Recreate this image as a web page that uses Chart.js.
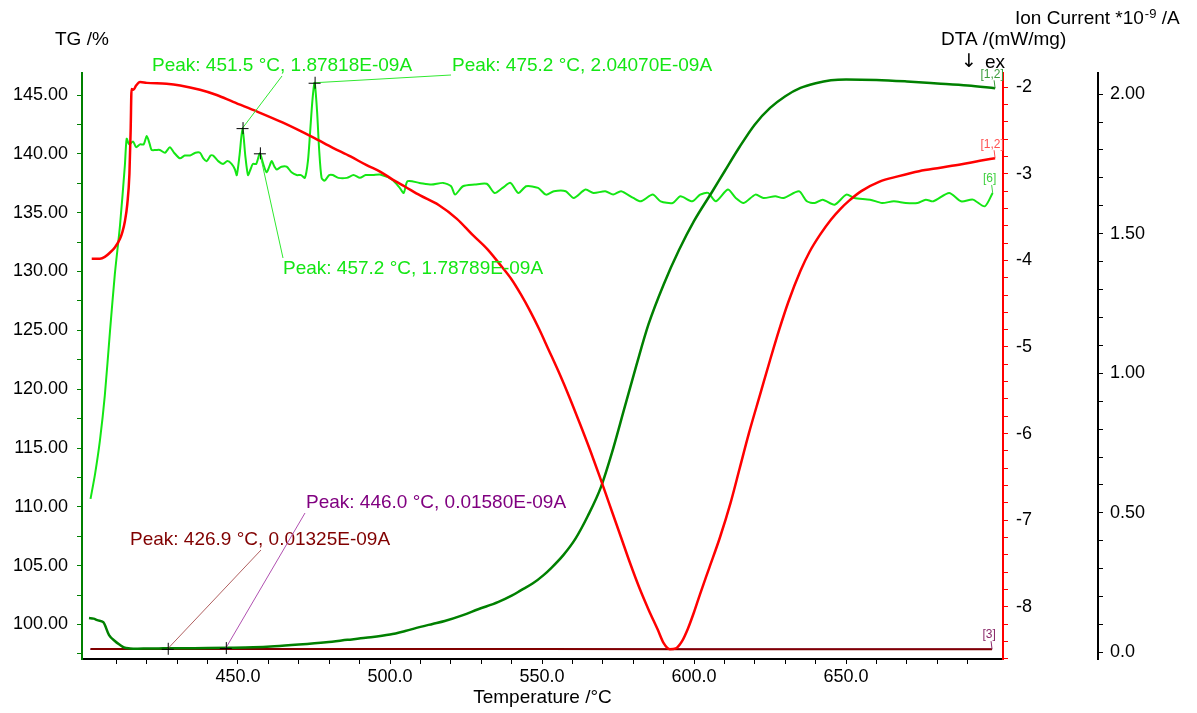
<!DOCTYPE html>
<html>
<head>
<meta charset="utf-8">
<title>TG / DTA / MS</title>
<script src="https://cdn.jsdelivr.net/npm/chart.js@4.4.1/dist/chart.umd.min.js"></script>
<style>
  html, body { margin: 0; padding: 0; background: #ffffff; }
  #wrap { width: 1197px; height: 713px; }
</style>
</head>
<body>
<div id="wrap"><canvas id="c" width="1197" height="713"></canvas></div>
<script>
// ---- TG (mass, %) ----
const tgTemp = [401, 402.5, 404, 405.7, 407.6, 409.5, 411, 412.5, 414.5, 417, 420, 424, 427, 432, 440, 447, 455, 462, 470, 479, 486, 492, 500, 505, 510, 514, 518, 524, 529, 535.5, 540, 543, 547, 550.5, 553, 557, 561, 565, 569.4, 573, 577, 581, 585, 590, 595, 600, 606, 610, 615, 620, 625, 630, 635, 640, 645, 650, 660, 670, 680, 690, 699];
const tgMass = [100.55, 100.5, 100.35, 100.2, 99.1, 98.6, 98.3, 98.05, 97.97, 97.95, 97.96, 97.97, 97.98, 97.99, 98.0, 98.02, 98.06, 98.15, 98.3, 98.5, 98.7, 98.87, 99.15, 99.45, 99.8, 100.05, 100.3, 100.8, 101.3, 101.9, 102.45, 102.9, 103.5, 104.2, 104.8, 105.9, 107.3, 109.2, 111.7, 114.6, 118.3, 122.0, 125.5, 128.9, 131.8, 134.3, 136.8, 138.5, 140.6, 142.5, 143.9, 144.9, 145.6, 146.0, 146.25, 146.32, 146.28, 146.15, 145.98, 145.8, 145.57];

// ---- DTA (mW/mg) ----
const dtaTemp = [401.9, 404.6, 406.2, 407.9, 409.5, 411.2, 412.0, 412.8, 413.6, 414.3, 414.7, 415.0, 415.6, 416.5, 417.8, 420, 426.5, 431, 437.5, 443, 448.4, 456.2, 464.8, 474.7, 481.2, 487, 492.3, 497, 501, 505, 509.9, 516, 522, 527, 532, 536, 540, 543, 546, 549, 552, 556, 559, 562.5, 566, 569, 572, 576, 579, 582, 585, 588, 590, 592, 594, 596, 598, 600, 602, 605, 608.5, 612, 615, 618, 621.7, 625, 628, 631, 635, 638, 641.5, 645, 648, 651, 655, 661, 667, 674, 681, 688, 694, 699];
const dtaSignal = [-3.98, -3.98, -3.96, -3.91, -3.85, -3.75, -3.67, -3.55, -3.35, -3.0, -2.5, -2.02, -2.03, -1.98, -1.94, -1.95, -1.96, -1.98, -2.03, -2.09, -2.17, -2.28, -2.41, -2.58, -2.70, -2.80, -2.90, -2.98, -3.07, -3.15, -3.25, -3.36, -3.52, -3.70, -3.87, -4.04, -4.22, -4.39, -4.58, -4.79, -5.02, -5.33, -5.58, -5.89, -6.21, -6.50, -6.80, -7.20, -7.50, -7.78, -8.03, -8.26, -8.42, -8.49, -8.48, -8.40, -8.25, -8.06, -7.85, -7.55, -7.20, -6.80, -6.40, -6.00, -5.55, -5.15, -4.80, -4.48, -4.12, -3.90, -3.70, -3.53, -3.41, -3.31, -3.20, -3.09, -3.03, -2.97, -2.93, -2.89, -2.85, -2.82];

// ---- Ion current m/z 6 (10^-9 A), peaks listed separately ----
const ms6Temp = [401.5, 403.0, 404.6, 406.2, 407.9, 409.5, 411.2, 412.8, 413.4, 414.2, 415.5, 416.5, 417.8, 419, 420, 421, 421.6, 423, 424.3, 426, 427.6, 429, 430.9, 432.5, 434.2, 436, 437.5, 438.6, 439.7, 441, 441.8, 443.5, 445.1, 446.5, 447.9, 449, 449.6, 450.5, 452.4, 453.3, 454.1, 454.9, 456, 458.3, 459.4, 460.3, 461.1, 462, 462.7, 464.3, 466, 467.6, 469.3, 470.7, 472, 473, 473.7, 474.5, 476, 476.7, 477.5, 478.5, 480, 481.2, 483, 485.8, 488, 490.1, 492, 494.4, 496.7, 500.6, 503.2, 504.5, 505.8, 509.7, 513.6, 517.5, 520.1, 521.4, 524.0, 527.9, 531.8, 534.4, 537.0, 539.6, 542.2, 544.8, 548.7, 551.3, 553.9, 557.8, 560.4, 564.3, 566.9, 570.8, 573.4, 576.0, 580.0, 582.5, 586.4, 589.0, 593.0, 595.5, 599.4, 602.0, 604.6, 607.2, 611.1, 613.7, 616.3, 620.2, 622.8, 626.7, 629.4, 634.5, 637.1, 639.7, 642.3, 646.2, 650.1, 652.7, 657.9, 661.8, 665.7, 669.6, 673.5, 676.2, 678.7, 683.9, 687.8, 691.7, 695.6, 698.2];
const ms6Current = [0.55, 0.64, 0.76, 0.92, 1.15, 1.355, 1.53, 1.745, 1.84, 1.82, 1.83, 1.81, 1.82, 1.82, 1.85, 1.82, 1.80, 1.80, 1.80, 1.79, 1.81, 1.79, 1.77, 1.78, 1.78, 1.79, 1.79, 1.77, 1.76, 1.78, 1.78, 1.76, 1.75, 1.76, 1.75, 1.73, 1.71, 1.78, 1.78, 1.71, 1.73, 1.75, 1.75, 1.75, 1.72, 1.74, 1.76, 1.74, 1.73, 1.74, 1.74, 1.72, 1.71, 1.71, 1.70, 1.76, 1.86, 1.98, 1.94, 1.80, 1.70, 1.69, 1.71, 1.71, 1.70, 1.70, 1.71, 1.70, 1.71, 1.71, 1.712, 1.694, 1.664, 1.646, 1.688, 1.682, 1.676, 1.682, 1.670, 1.640, 1.670, 1.676, 1.679, 1.646, 1.664, 1.682, 1.646, 1.670, 1.664, 1.640, 1.652, 1.652, 1.628, 1.658, 1.646, 1.652, 1.640, 1.652, 1.628, 1.616, 1.640, 1.616, 1.610, 1.634, 1.616, 1.640, 1.646, 1.616, 1.658, 1.628, 1.610, 1.640, 1.628, 1.634, 1.628, 1.652, 1.616, 1.610, 1.622, 1.604, 1.640, 1.628, 1.622, 1.610, 1.616, 1.610, 1.610, 1.622, 1.616, 1.646, 1.616, 1.622, 1.598, 1.646];
const ms6PeakTemp = [451.5, 457.2, 475.2];
const ms6PeakCurrent = [1.87818, 1.78789, 2.04070];

// ---- Ion current m/z 3 traces (10^-9 A) ----
const ms3aTemp = [401.5, 410, 418, 423, 430, 436, 450, 500, 550, 600, 650, 698];
const ms3aCurrent = [0.0121, 0.0121, 0.0123, 0.0127, 0.0126, 0.0122, 0.0121, 0.0121, 0.0121, 0.0120, 0.0120, 0.0120];
const ms3aPeakTemp = [426.9];
const ms3aPeakCurrent = [0.01325];

const ms3bTemp = [401.5, 420, 438, 442, 450, 455, 500, 550, 600, 650, 698];
const ms3bCurrent = [0.0112, 0.0113, 0.0118, 0.0140, 0.0138, 0.0116, 0.0113, 0.0113, 0.0112, 0.0112, 0.0112];
const ms3bPeakTemp = [446.0];
const ms3bPeakCurrent = [0.01580];

// ---- axis ticks ----
const tempLabelValues = [450, 500, 550, 600, 650];
const tempLabelText = ['450.0', '500.0', '550.0', '600.0', '650.0'];
const tgLabelValues = [100, 105, 110, 115, 120, 125, 130, 135, 140, 145];
const tgLabelText = ['100.00', '105.00', '110.00', '115.00', '120.00', '125.00', '130.00', '135.00', '140.00', '145.00'];
const dtaLabelValues = [-8, -7, -6, -5, -4, -3, -2];
const dtaLabelText = ['-8', '-7', '-6', '-5', '-4', '-3', '-2'];
const ionLabelValues = [0, 0.5, 1.0, 1.5, 2.0];
const ionLabelText = ['0.0', '0.50', '1.00', '1.50', '2.00'];

const FONT = '"Liberation Sans", Arial, Helvetica, sans-serif';
const TG_GREEN = '#008000';
const MS_GREEN = '#14e614';
const DTA_RED = '#ff0000';
const MAROON = '#800000';
const PURPLE = '#800080';

function steps(a, b, s) {
  const out = [];
  const n = Math.round((b - a) / s);
  for (let i = 0; i <= n; i++) out.push(+(a + i * s).toFixed(4));
  return out;
}
function labeler(values, texts) {
  return v => {
    const i = values.findIndex(t => Math.abs(t - v) < 1e-6);
    return i < 0 ? '' : texts[i];
  };
}
function points(xs, ys) { return xs.map((t, i) => ({ x: t, y: ys[i] })); }
function withPeaks(xs, ys, px, py) {
  return points(xs, ys).concat(points(px, py)).sort((a, b) => a.x - b.x);
}

const tempTicks = steps(410, 690, 10);
const tgTicks = steps(97.5, 145, 2.5);
const dtaTicks = steps(-8.6, -2.0, 0.2);
const ionTicks = steps(0, 2.0, 0.1);

function axisGrid(color) {
  return { display: true, drawOnChartArea: false, drawTicks: true, tickLength: 5, tickColor: color, tickWidth: 1 };
}
function tickFont() { return { family: FONT, size: 18 }; }

// Peak call-outs: where the text sits and where its leader line ends.
const peakCallouts = [
  { t: ms6PeakTemp[0], v: ms6PeakCurrent[0], color: MS_GREEN, lead: '#30e830', tx: 152, ty: 66, ex: 282, ey: 76 },
  { t: ms6PeakTemp[1], v: ms6PeakCurrent[1], color: MS_GREEN, lead: '#30e830', tx: 283, ty: 269, ex: 283, ey: 258 },
  { t: ms6PeakTemp[2], v: ms6PeakCurrent[2], color: MS_GREEN, lead: '#30e830', tx: 452, ty: 66, ex: 451, ey: 75 },
  { t: ms3aPeakTemp[0], v: ms3aPeakCurrent[0], color: MAROON, lead: '#b06060', tx: 130, ty: 540, ex: 261, ey: 550 },
  { t: ms3bPeakTemp[0], v: ms3bPeakCurrent[0], color: PURPLE, lead: '#b050b0', tx: 306, ty: 503, ex: 305, ey: 513 }
];

const decorations = {
  id: 'decorations',
  afterDatasetsDraw(chart) {
    const { ctx, scales } = chart;
    const xs = scales.x, ion = scales.ion;
    ctx.save();

    // peak markers, leaders and texts
    peakCallouts.forEach(p => {
      const cx = xs.getPixelForValue(p.t);
      const cy = ion.getPixelForValue(p.v);
      ctx.strokeStyle = p.lead;
      ctx.lineWidth = 1;
      ctx.beginPath();
      ctx.moveTo(cx, cy);
      ctx.lineTo(p.ex, p.ey);
      ctx.stroke();
      ctx.strokeStyle = '#000';
      ctx.beginPath();
      ctx.moveTo(cx - 6, cy + 0.5); ctx.lineTo(cx + 6, cy + 0.5);
      ctx.moveTo(cx + 0.5, cy - 6); ctx.lineTo(cx + 0.5, cy + 6);
      ctx.stroke();
      ctx.fillStyle = p.color;
      ctx.font = '19px ' + FONT;
      ctx.textAlign = 'left';
      ctx.textBaseline = 'middle';
      ctx.fillText('Peak: ' + p.t.toFixed(1) + ' \u00B0C, ' + p.v.toFixed(5) + 'E-09A', p.tx, p.ty);
    });

    // curve end tags
    const tags = [
      { ds: 1, text: '[1,2]', color: '#3a9a3a' },
      { ds: 0, text: '[1,2]', color: '#ff5050' },
      { ds: 2, text: '[6]', color: '#40d040' },
      { ds: 3, text: '[3]', color: '#8a2a6a' }
    ];
    ctx.font = '12px ' + FONT;
    ctx.textAlign = 'center';
    ctx.textBaseline = 'bottom';
    tags.forEach(tag => {
      const meta = chart.getDatasetMeta(tag.ds);
      const last = meta.data[meta.data.length - 1];
      const lx = last.x, ly = last.y;
      ctx.strokeStyle = tag.color;
      ctx.lineWidth = 1;
      ctx.beginPath();
      ctx.moveTo(lx, ly);
      ctx.lineTo(lx - 1, ly - 8);
      ctx.stroke();
      ctx.fillStyle = tag.color;
      ctx.fillText(tag.text, lx - 3, ly - 8);
    });

    // axis captions
    ctx.fillStyle = '#000';
    ctx.textBaseline = 'middle';
    ctx.textAlign = 'left';
    ctx.font = '19px ' + FONT;
    ctx.fillText('TG /%', 55, 40);
    ctx.fillText('DTA /(mW/mg)', 941, 40);
    let x0 = 1015;
    const head = 'Ion Current *10';
    ctx.fillText(head, x0, 19);
    x0 += ctx.measureText(head).width + 1;
    ctx.font = '13px ' + FONT;
    ctx.fillText('-9', x0, 14);
    x0 += ctx.measureText('-9').width;
    ctx.font = '19px ' + FONT;
    ctx.fillText(' /A', x0, 19);
    ctx.fillText('ex', 985, 63);
    ctx.font = '19px "DejaVu Sans", sans-serif';
    ctx.fillText('\u2193', 961, 62);
    ctx.restore();
  }
};

const lineStyle = (color, width) => ({
  borderColor: color, backgroundColor: color, borderWidth: width,
  pointRadius: 0, fill: false
});

new Chart(document.getElementById('c'), {
  type: 'line',
  data: {
    datasets: [
      Object.assign({ label: 'DTA', data: points(dtaTemp, dtaSignal), yAxisID: 'dta', cubicInterpolationMode: 'monotone' }, lineStyle(DTA_RED, 2.5)),
      Object.assign({ label: 'TG', data: points(tgTemp, tgMass), yAxisID: 'tg', cubicInterpolationMode: 'monotone' }, lineStyle(TG_GREEN, 2.5)),
      Object.assign({ label: 'm/z 6', data: withPeaks(ms6Temp, ms6Current, ms6PeakTemp, ms6PeakCurrent), yAxisID: 'ion', tension: 0.25 }, lineStyle(MS_GREEN, 2)),
      Object.assign({ label: 'm/z 3', data: withPeaks(ms3aTemp, ms3aCurrent, ms3aPeakTemp, ms3aPeakCurrent), yAxisID: 'ion', tension: 0 }, lineStyle(MAROON, 2)),
      Object.assign({ label: 'm/z 3b', data: withPeaks(ms3bTemp, ms3bCurrent, ms3bPeakTemp, ms3bPeakCurrent), yAxisID: 'ion', tension: 0 }, lineStyle(PURPLE, 1.5))
    ]
  },
  options: {
    responsive: false,
    devicePixelRatio: 1,
    animation: false,
    layout: { padding: { left: 0, right: 29, top: 73, bottom: 0 } },
    plugins: { legend: { display: false }, tooltip: { enabled: false } },
    scales: {
      x: {
        type: 'linear', position: 'bottom', min: 398.7, max: 701.6,
        afterBuildTicks: s => { s.ticks = tempTicks.map(v => ({ value: v })); },
        afterFit: s => { s.height = 54; },
        border: { display: true, color: '#000', width: 2 },
        grid: axisGrid('#000'),
        ticks: { autoSkip: false, maxRotation: 0, minRotation: 0, padding: 2, color: '#000', font: tickFont(), callback: labeler(tempLabelValues, tempLabelText) },
        title: { display: true, text: 'Temperature /\u00B0C', color: '#000', font: { family: FONT, size: 19 }, padding: { top: 0, bottom: 4 } }
      },
      tg: {
        type: 'linear', position: 'left', min: 97.07, max: 146.87,
        afterBuildTicks: s => { s.ticks = tgTicks.map(v => ({ value: v })); },
        afterFit: s => { s.width = 82; },
        border: { display: true, color: TG_GREEN, width: 2 },
        grid: axisGrid(TG_GREEN),
        ticks: { autoSkip: false, padding: 9, color: '#000', font: tickFont(), callback: labeler(tgLabelValues, tgLabelText) }
      },
      dta: {
        type: 'linear', position: 'right', weight: 1, min: -8.603, max: -1.836,
        afterBuildTicks: s => { s.ticks = dtaTicks.map(v => ({ value: v })); },
        afterFit: s => { s.width = 95; },
        border: { display: true, color: DTA_RED, width: 2 },
        grid: axisGrid(DTA_RED),
        ticks: { autoSkip: false, padding: 8, color: '#000', font: tickFont(), callback: labeler(dtaLabelValues, dtaLabelText) }
      },
      ion: {
        type: 'linear', position: 'right', weight: 2, min: -0.0233, max: 2.0756,
        afterBuildTicks: s => { s.ticks = ionTicks.map(v => ({ value: v })); },
        afterFit: s => { s.width = 70; },
        border: { display: true, color: '#000', width: 2 },
        grid: axisGrid('#000'),
        ticks: { autoSkip: false, padding: 7, color: '#000', font: tickFont(), callback: labeler(ionLabelValues, ionLabelText) }
      }
    }
  },
  plugins: [decorations]
});
</script>
</body>
</html>
